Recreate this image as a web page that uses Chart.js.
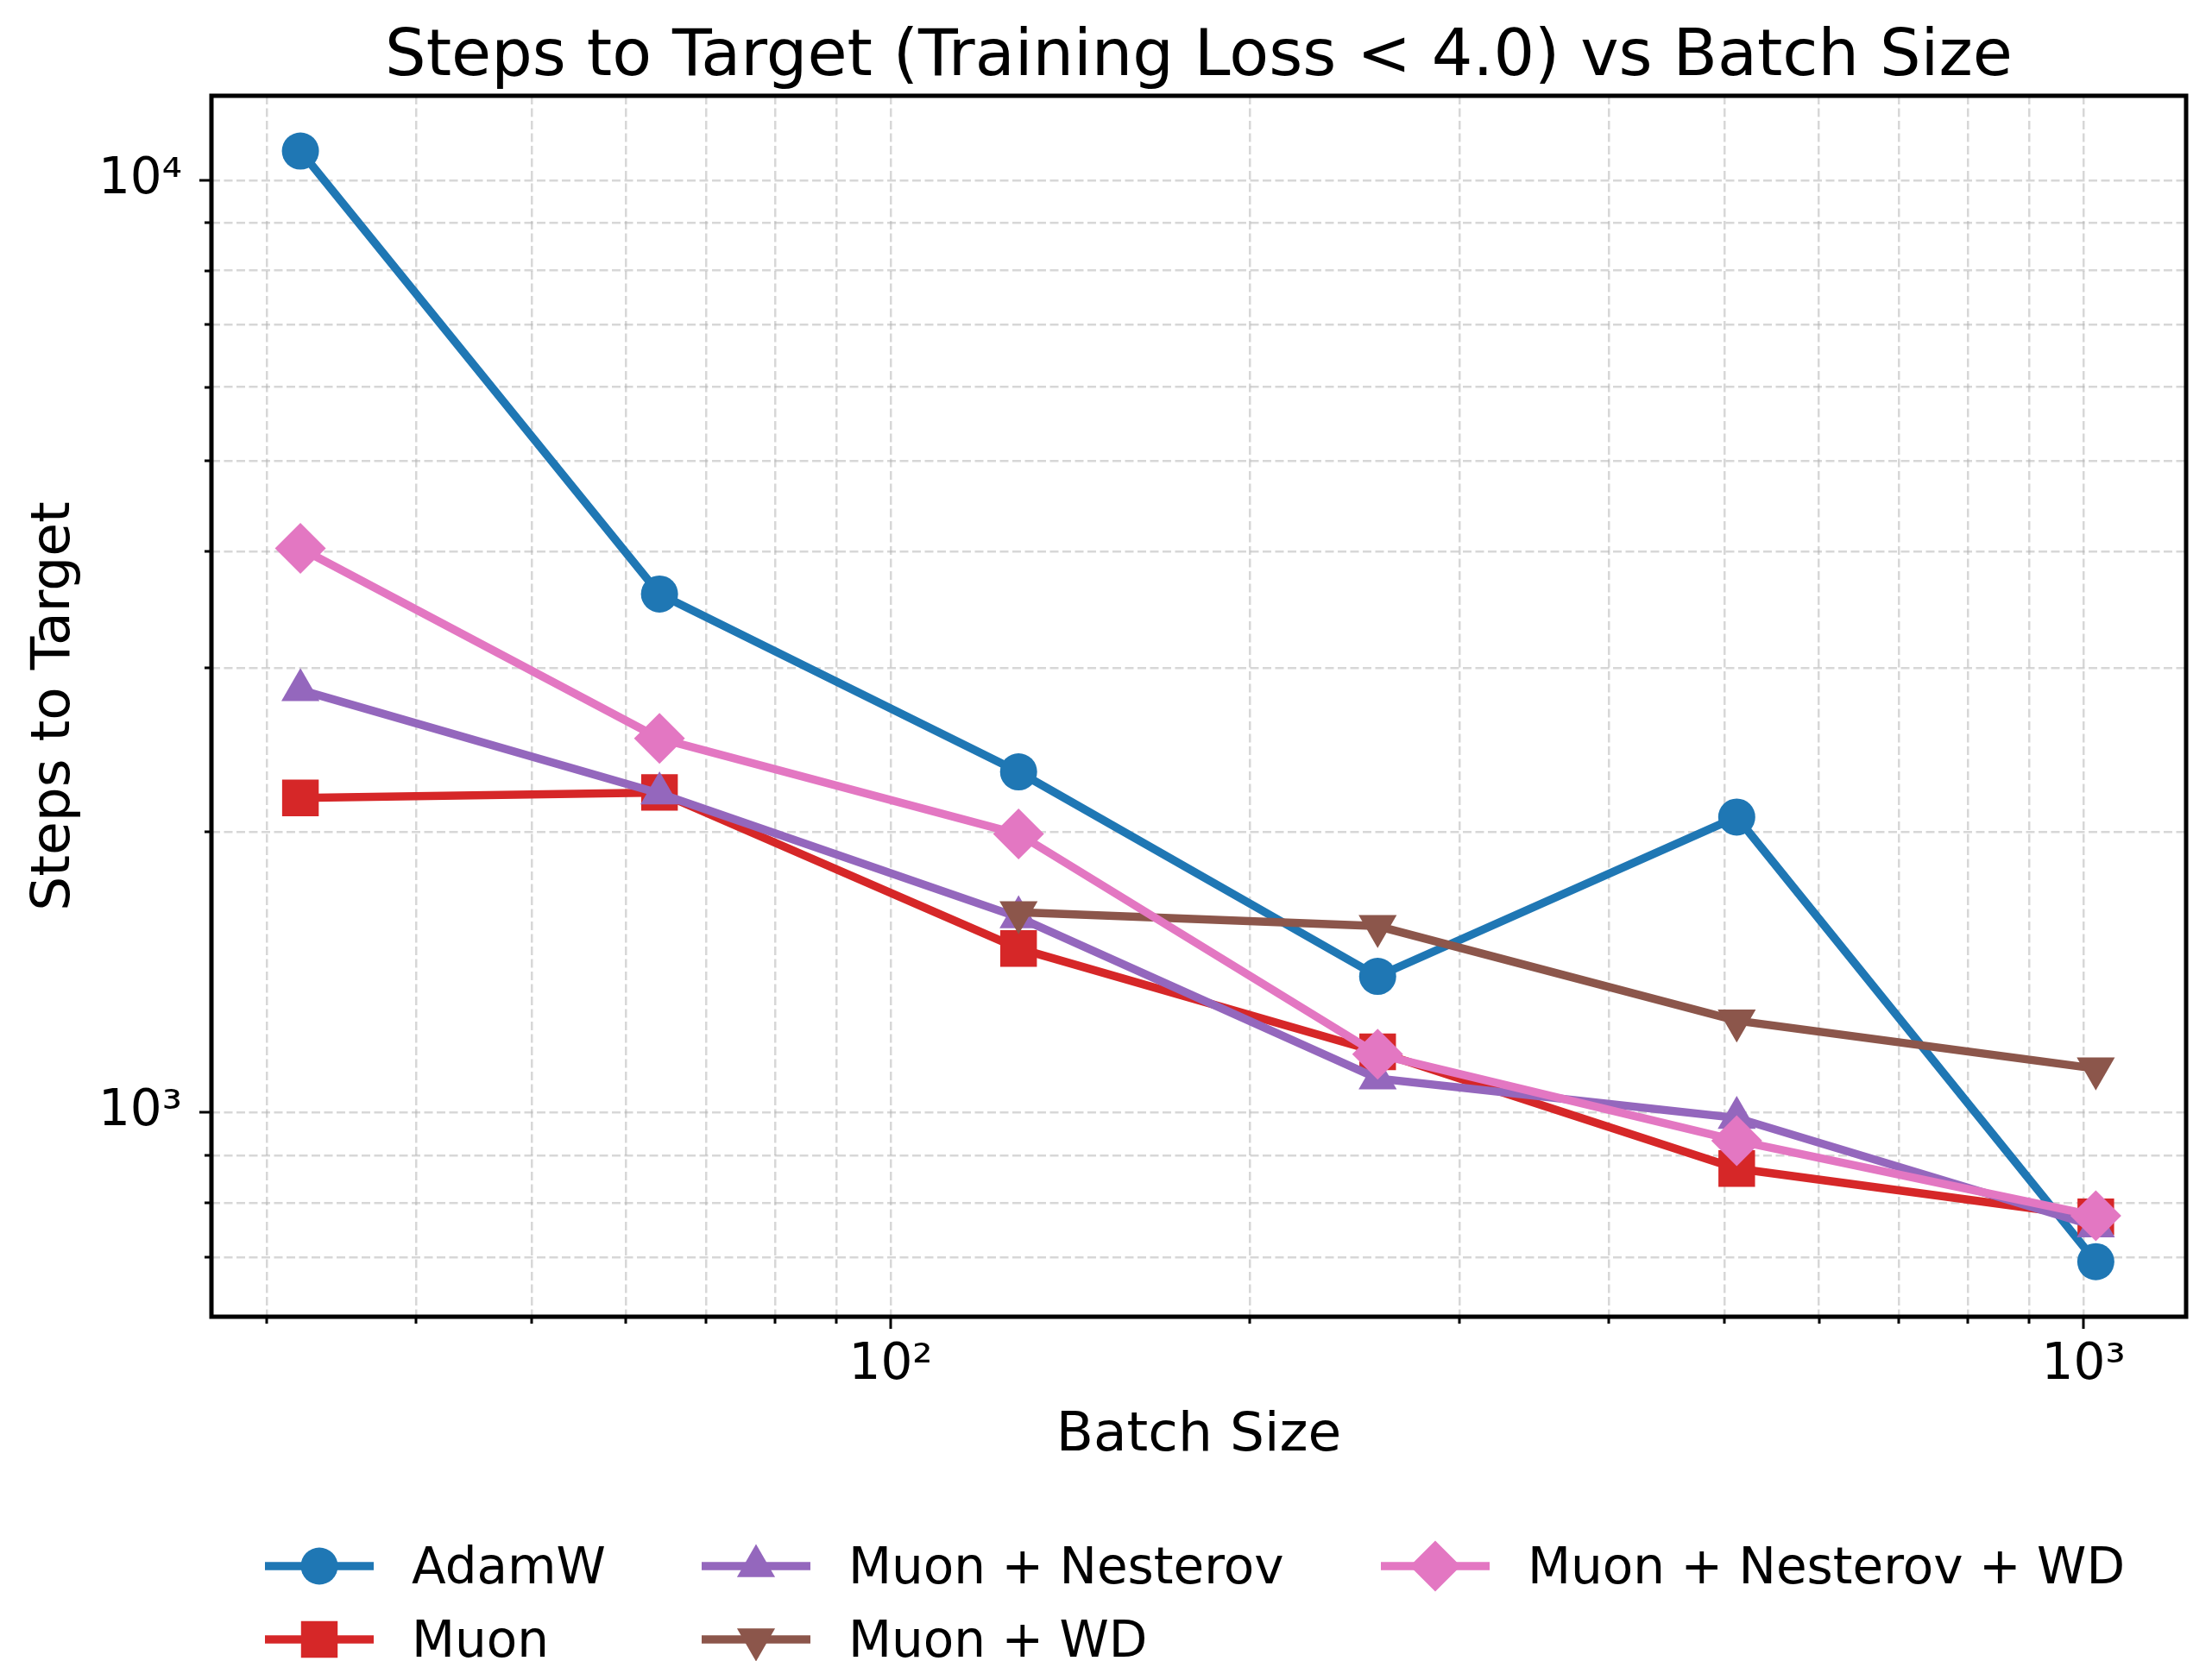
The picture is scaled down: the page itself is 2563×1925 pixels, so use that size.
<!DOCTYPE html>
<html>
<head>
<meta charset="utf-8">
<title>Steps to Target vs Batch Size</title>
<script src="https://cdn.jsdelivr.net/npm/chart.js@4.4.1/dist/chart.umd.min.js"></script>
<style>
  html, body { margin: 0; padding: 0; background: #fff; }
  canvas { display: block; }
</style>
</head>
<body>
<canvas id="stepsChart" width="2563" height="1925"></canvas>
<script>
// data
const batchSizes = [32, 64, 128, 256, 512, 1024];
const adamW = [10750, 3600, 2320, 1400, 2075, 692];
const muon = [2175, 2205, 1500, 1162, 871, 773];
const muonNesterov = [2840, 2200, 1620, 1088, 987, 755];
const muonWd = [null, null, 1640, 1585, 1255, 1115];
const muonNesterovWd = [4030, 2520, 1990, 1155, 933, 775];

const seriesNames = ["AdamW", "Muon", "Muon + Nesterov", "Muon + WD", "Muon + Nesterov + WD"];
const seriesValues = [adamW, muon, muonNesterov, muonWd, muonNesterovWd];
const seriesColors = ["#1f77b4", "#d62728", "#9467bd", "#8c564b", "#e377c2"];
const seriesMarkers = [
  { pointStyle: "circle", radius: 21.5, rotation: 0 },
  { pointStyle: "rect", radius: 30, rotation: 0 },
  { pointStyle: "triangle", radius: 25.5, rotation: 0 },
  { pointStyle: "triangle", radius: 25.5, rotation: 180 },
  { pointStyle: "rectRot", radius: 29.5, rotation: 0 },
];

const xTickValues = [30, 40, 50, 60, 70, 80, 90, 100, 200, 300, 400, 500, 600, 700, 800, 900, 1000];
const yTickValues = [700, 800, 900, 1000, 2000, 3000, 4000, 5000, 6000, 7000, 8000, 9000, 10000];
const xRange = [26.95, 1219];
const yRange = [604, 12323];

const chartTitle = "Steps to Target (Training Loss < 4.0) vs Batch Size";
const xTitle = "Batch Size";
const yTitle = "Steps to Target";

const FONT = "'DejaVu Sans', 'Liberation Sans', sans-serif";
const superDigits = { 1: "\u00b9", 2: "\u00b2", 3: "\u00b3", 4: "\u2074" };

function isPowerOfTen(v) {
  const l = Math.log10(v);
  return Math.abs(l - Math.round(l)) < 1e-9;
}

function powerLabel(v) {
  if (!isPowerOfTen(v)) return "";
  return "10" + superDigits[Math.round(Math.log10(v))];
}

const datasets = seriesNames.map((name, i) => ({
  label: name,
  data: batchSizes
    .map((b, j) => ({ x: b, y: seriesValues[i][j] }))
    .filter((p) => p.y !== null),
  borderColor: seriesColors[i],
  backgroundColor: seriesColors[i],
  borderWidth: 9.5,
  pointStyle: seriesMarkers[i].pointStyle,
  pointRadius: seriesMarkers[i].radius,
  pointRotation: seriesMarkers[i].rotation,
  pointBorderWidth: 0,
  pointBackgroundColor: seriesColors[i],
  tension: 0,
  // later series on top, as in the original
  order: seriesNames.length - i,
}));

// frame, tick marks, titles and the 3-column legend
const decorPlugin = {
  id: "decor",
  afterDraw(chart) {
    const ctx = chart.ctx;
    const area = chart.chartArea;
    const xScale = chart.scales.x;
    const yScale = chart.scales.y;

    ctx.save();
    ctx.strokeStyle = "#000";
    ctx.lineWidth = 3;
    xTickValues.forEach((v) => {
      const px = Math.round(xScale.getPixelForValue(v));
      const len = isPowerOfTen(v) ? 14 : 8;
      ctx.beginPath();
      ctx.moveTo(px, area.bottom);
      ctx.lineTo(px, area.bottom + len);
      ctx.stroke();
    });
    yTickValues.forEach((v) => {
      const py = Math.round(yScale.getPixelForValue(v));
      const len = isPowerOfTen(v) ? 14 : 8;
      ctx.beginPath();
      ctx.moveTo(area.left - len, py);
      ctx.lineTo(area.left, py);
      ctx.stroke();
    });

    ctx.lineWidth = 5;
    ctx.strokeRect(area.left, area.top, area.right - area.left, area.bottom - area.top);

    const midX = (area.left + area.right) / 2;
    const midY = (area.top + area.bottom) / 2;
    ctx.fillStyle = "#000";
    ctx.textAlign = "center";
    ctx.textBaseline = "alphabetic";
    ctx.font = "75px " + FONT;
    ctx.fillText(chartTitle, midX, 87);
    ctx.font = "63px " + FONT;
    ctx.fillText(xTitle, midX, 1681);
    ctx.save();
    ctx.translate(80, midY);
    ctx.rotate(-Math.PI / 2);
    ctx.fillText(yTitle, 0, 0);
    ctx.restore();

    // legend, filled column by column like matplotlib ncol=3
    const colX = [307, 813, 1600];
    const rowY = [1815, 1900];
    const lineLen = 126;
    ctx.font = "58px " + FONT;
    ctx.textAlign = "left";
    seriesNames.forEach((name, i) => {
      const col = Math.floor(i / 2);
      const row = i % 2;
      const x0 = colX[col];
      const y0 = rowY[row];
      ctx.strokeStyle = seriesColors[i];
      ctx.lineWidth = 9.5;
      ctx.beginPath();
      ctx.moveTo(x0, y0);
      ctx.lineTo(x0 + lineLen, y0);
      ctx.stroke();
      ctx.fillStyle = seriesColors[i];
      Chart.helpers.drawPoint(ctx, {
        pointStyle: seriesMarkers[i].pointStyle,
        radius: seriesMarkers[i].radius,
        rotation: seriesMarkers[i].rotation,
        borderWidth: 0,
      }, x0 + lineLen / 2, y0);
      ctx.fillStyle = "#000";
      ctx.fillText(name, x0 + 170, y0 + 20);
    });
    ctx.restore();
  },
};

const gridStyle = {
  color: "rgba(176, 176, 176, 0.5)",
  lineWidth: 2.5,
  drawTicks: false,
};

const ctx = document.getElementById("stepsChart").getContext("2d");
const chart = new Chart(ctx, {
  type: "line",
  data: { datasets: datasets },
  options: {
    responsive: false,
    animation: false,
    events: [],
    layout: { padding: { top: 111, right: 30, left: 0, bottom: 0 } },
    plugins: {
      legend: { display: false },
      title: { display: false },
      tooltip: { enabled: false },
    },
    scales: {
      x: {
        type: "logarithmic",
        min: xRange[0],
        max: xRange[1],
        grid: gridStyle,
        border: { display: false, dash: [10, 4.5] },
        ticks: {
          autoSkip: false,
          maxRotation: 0,
          padding: 22,
          color: "#000",
          font: { family: FONT, size: 58 },
          callback: (value) => powerLabel(value),
        },
        afterBuildTicks: (scale) => {
          scale.ticks = xTickValues.map((v) => ({ value: v, major: isPowerOfTen(v) }));
        },
        afterFit: (scale) => {
          scale.height = 399;
        },
      },
      y: {
        type: "logarithmic",
        min: yRange[0],
        max: yRange[1],
        grid: gridStyle,
        border: { display: false, dash: [10, 4.5] },
        ticks: {
          autoSkip: false,
          padding: 34,
          color: "#000",
          font: { family: FONT, size: 58 },
          callback: (value) => powerLabel(value),
        },
        afterBuildTicks: (scale) => {
          scale.ticks = yTickValues.map((v) => ({ value: v, major: isPowerOfTen(v) }));
        },
        afterFit: (scale) => {
          scale.width = 245;
        },
      },
    },
  },
  plugins: [decorPlugin],
});
</script>
</body>
</html>
